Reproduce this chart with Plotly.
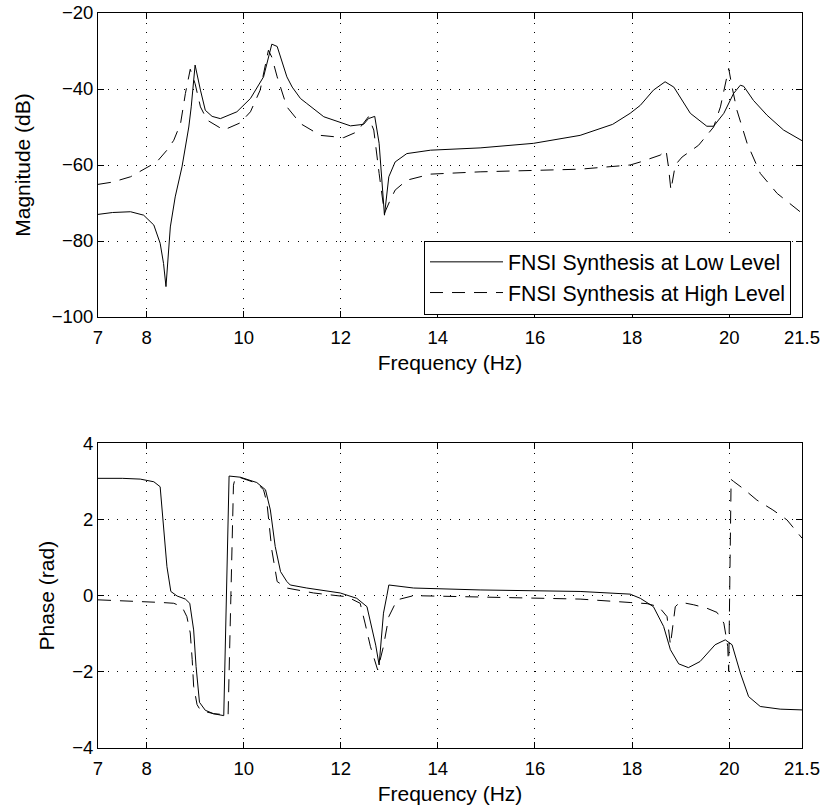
import plotly.graph_objects as go

# ---------------- data ----------------
freq_mag_low = [7.00, 7.30, 7.67, 7.94, 8.15, 8.28, 8.35, 8.40, 8.49, 8.59, 8.73, 8.87, 8.92, 9.00,
                9.11, 9.21, 9.35, 9.52, 9.86, 10.14, 10.41, 10.50, 10.58, 10.69, 10.89, 11.00, 11.17,
                11.30, 11.65, 12.20, 12.47, 12.57, 12.70, 12.79, 12.90, 12.99, 13.12, 13.36, 13.85,
                14.87, 15.97, 16.93, 17.14, 17.60, 17.96, 18.17, 18.44, 18.68, 18.86, 19.20, 19.54,
                19.68, 19.89, 20.09, 20.23, 20.30, 20.50, 20.78, 21.12, 21.50]
mag_low = [-73.0, -72.5, -72.3, -73.2, -75.8, -80.6, -85.9, -92.0, -76.3, -68.4, -60.5, -50.0, -44.7, -33.7,
           -40.3, -45.6, -47.2, -47.8, -46.0, -42.5, -36.8, -32.5, -28.2, -28.8, -36.8, -39.5, -42.5,
           -43.8, -47.3, -49.7, -49.3, -47.8, -47.2, -54.3, -73.2, -63.1, -59.2, -57.0, -56.1,
           -55.5, -54.3, -52.2, -51.3, -49.3, -46.4, -44.3, -40.3, -38.1, -39.5, -46.4, -49.8,
           -49.8, -46.4, -41.2, -39.0, -39.3, -43.0, -46.9, -50.8, -53.6]

freq_mag_high = [7.00, 7.30, 7.67, 8.01, 8.21, 8.42, 8.56, 8.70, 8.80, 8.90, 9.00, 9.11, 9.25, 9.59,
                 9.93, 10.14, 10.34, 10.51, 10.58, 10.69, 10.89, 11.17, 11.58, 12.06, 12.33, 12.57,
                 12.68, 12.79, 12.90, 13.02, 13.12, 13.36, 13.85, 14.87, 16.11, 16.93, 17.96, 18.17,
                 18.58, 18.70, 18.75, 18.80, 18.89, 19.03, 19.37, 19.68, 19.82, 19.92, 19.99, 20.06,
                 20.16, 20.37, 20.64, 20.99, 21.50]
mag_high = [-65.1, -64.5, -63.1, -60.5, -59.2, -56.1, -53.5, -49.1, -41.2, -34.8, -38.6, -44.7, -48.2, -50.8,
            -48.9, -46.0, -40.3, -29.8, -31.6, -36.8, -44.7, -49.1, -52.2, -52.8, -51.3, -47.3,
            -50.8, -62.2, -72.7, -69.2, -66.6, -64.0, -62.4, -61.8, -61.4, -61.1, -60.0, -59.2,
            -57.4, -56.1, -60.5, -66.6, -60.0, -57.9, -54.8, -50.0, -44.7, -38.6, -34.6, -39.5,
            -45.6, -54.3, -62.2, -67.5, -72.7]

freq_ph_low = [7.00, 7.50, 7.87, 8.15, 8.28, 8.35, 8.42, 8.50, 8.63, 8.80, 8.89, 8.97, 9.02, 9.09,
               9.21, 9.38, 9.59, 9.70, 9.93, 10.27, 10.45, 10.55, 10.65, 10.76, 10.89, 10.96, 11.30,
               11.99, 12.33, 12.54, 12.64, 12.72, 12.79, 12.84, 12.88, 12.95, 12.99, 13.50, 14.87,
               16.93, 17.96, 18.17, 18.44, 18.65, 18.79, 18.96, 19.16, 19.40, 19.71, 19.92, 20.06,
               20.23, 20.40, 20.64, 21.05, 21.50]
phase_low = [3.08, 3.08, 3.06, 2.99, 2.86, 1.81, 0.76, 0.11, -0.01, -0.09, -0.20, -0.90, -1.86, -2.80,
             -3.01, -3.10, -3.15, 3.14, 3.11, 2.97, 2.78, 2.25, 1.29, 0.63, 0.37, 0.28, 0.20,
             0.07, -0.07, -0.29, -0.81, -1.30, -1.82, -1.00, -0.46, 0.00, 0.28, 0.20, 0.15,
             0.11, 0.04, -0.07, -0.29, -0.81, -1.42, -1.79, -1.89, -1.73, -1.29, -1.16, -1.29,
             -2.03, -2.65, -2.91, -2.98, -3.00]

freq_ph_high = [7.00, 8.04, 8.32, 8.56, 8.73, 8.83, 8.90, 8.94, 8.97, 9.04, 9.11, 9.38, 9.68, 9.79,
                9.83, 9.93, 10.27, 10.41, 10.48, 10.58, 10.69, 10.89, 11.44, 12.13, 12.40, 12.50,
                12.61, 12.76, 12.88, 12.99, 13.16, 13.50, 14.87, 16.93, 17.96, 18.31, 18.55, 18.72,
                18.79, 18.84, 18.89, 18.99, 19.27, 19.54, 19.75, 19.89, 19.97, 19.99, 20.04, 20.09,
                20.30, 20.57, 20.90, 21.19, 21.50]
phase_high = [-0.11, -0.15, -0.18, -0.20, -0.29, -0.55, -0.98, -1.68, -2.38, -2.86, -3.01, -3.10, -3.13, 2.90,
              3.11, 3.10, 2.95, 2.78, 2.43, 1.20, 0.37, 0.20, 0.07, -0.03, -0.20, -0.72,
              -1.33, -1.95, -1.33, -0.55, -0.11, 0.00, -0.03, -0.09, -0.18, -0.21, -0.29, -0.55,
              -1.29, -0.72, -0.29, -0.17, -0.24, -0.33, -0.44, -0.72, -1.33, -1.99, 3.05, 3.00,
              2.80, 2.51, 2.25, 1.99, 1.51]

x_tickvals = [7, 8, 10, 12, 14, 16, 18, 20, 21.5]
x_ticktext = ["7", "8", "10", "12", "14", "16", "18", "20", "21.5"]
mag_tickvals = [-100, -80, -60, -40, -20]
phase_tickvals = [-4, -2, 0, 2, 4]

series_names = ["FNSI Synthesis at Low Level", "FNSI Synthesis at High Level"]

# ---------------- figure ----------------
FONT = "Liberation Sans, Arial, Helvetica, sans-serif"
solid = dict(color="black", width=1)
dashed = dict(color="black", width=1, dash="13px,9px")

fig = go.Figure()
fig.add_trace(go.Scatter(x=freq_mag_low, y=mag_low, mode="lines", line=solid,
                         name=series_names[0], xaxis="x", yaxis="y"))
fig.add_trace(go.Scatter(x=freq_mag_high, y=mag_high, mode="lines", line=dashed,
                         name=series_names[1], xaxis="x", yaxis="y"))
fig.add_trace(go.Scatter(x=freq_ph_low, y=phase_low, mode="lines", line=solid,
                         showlegend=False, xaxis="x2", yaxis="y2"))
fig.add_trace(go.Scatter(x=freq_ph_high, y=phase_high, mode="lines", line=dashed,
                         showlegend=False, xaxis="x2", yaxis="y2"))

axis_common = dict(
    showline=True, linecolor="black", linewidth=1, mirror="ticks",
    ticks="inside", ticklen=6, tickwidth=1, tickcolor="black",
    showgrid=True, gridcolor="black", gridwidth=1, griddash="1px,8.5px",
    zeroline=False, tickfont=dict(family=FONT, size=18.5, color="black"),
    automargin=False,
)

title_font = dict(family=FONT, size=21, color="black")
xa = dict(axis_common, range=[7, 21.5], tickmode="array", tickvals=x_tickvals,
          ticktext=x_ticktext, ticklabelstandoff=4,
          title=dict(text="Frequency (Hz)", font=title_font, standoff=8))

H = 810
m_t, m_b = 13, 62
ph = H - m_t - m_b
top_dom = [(748 - 317) / ph, 1.0]
bot_dom = [0.0, (748 - 443.3) / ph]

fig.update_layout(
    width=825, height=810,
    margin=dict(l=98, r=23, t=m_t, b=m_b),
    paper_bgcolor="white", plot_bgcolor="white",
    font=dict(family=FONT, color="black"),
    showlegend=True,
    xaxis=dict(xa, anchor="y"),
    xaxis2=dict(xa, anchor="y2"),
    yaxis=dict(axis_common, domain=top_dom, range=[-100, -20], tickmode="array",
               tickvals=mag_tickvals, anchor="x",
               title=dict(text="Magnitude (dB)", font=title_font, standoff=15)),
    yaxis2=dict(axis_common, domain=bot_dom, range=[-4, 4], tickmode="array",
                tickvals=phase_tickvals, anchor="x2",
                title=dict(text="Phase (rad)", font=title_font, standoff=11)),
    legend=dict(x=(791 - 98) / 704, y=(748 - 277.5) / ph, xanchor="right", yanchor="middle",
                bgcolor="white", bordercolor="black", borderwidth=1,
                font=dict(family=FONT, size=21.3, color="black"),
                itemwidth=73, tracegroupgap=0),
)

fig.write_html("out.html")
